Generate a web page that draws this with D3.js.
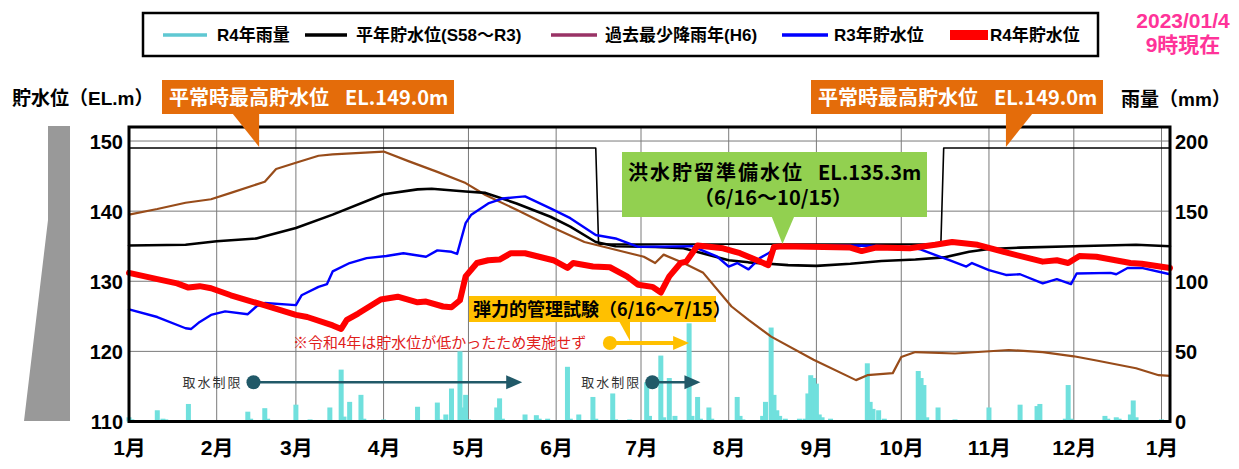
<!DOCTYPE html>
<html>
<head>
<meta charset="utf-8">
<script src="https://cdn.jsdelivr.net/npm/d3@7"></script>
<style>
  body { margin: 0; background: #fff; }
  svg { display: block; font-family: "Liberation Sans", "Noto Sans CJK JP", sans-serif; }
</style>
</head>
<body>
<div class="chart"></div>
<script>
// month labels along the bottom (Jan 2022 .. Jan 2023)
var monthLabels = ["1月","2月","3月","4月","5月","6月","7月","8月","9月","10月","11月","12月","1月"];
var levelTicks = [110, 120, 130, 140, 150];
var rainTicks = [0, 50, 100, 150, 200];

var legendLabels = ["R4年雨量", "平年貯水位(S58～R3)", "過去最少降雨年(H6)", "R3年貯水位", "R4年貯水位"];

// R4 reservoir level (EL.m)
var r4Level = [["1/1",131.2],["1/11",130.3],["1/18",129.7],["1/22",129.1],["1/26",129.3],["1/30",129.0],["2/6",128.0],["2/16",126.8],["3/1",125.2],["3/5",124.9],["3/14",123.7],["3/17",123.2],["3/19",124.5],["3/23",125.4],["3/27",126.4],["3/31",127.4],["4/6",127.8],["4/13",127.0],["4/16",127.1],["4/22",126.4],["4/25",126.3],["4/28",127.3],["4/30",130.7],["5/4",132.6],["5/8",133.0],["5/12",133.1],["5/16",134.0],["5/21",134.0],["5/26",133.5],["5/31",133.0],["6/5",131.9],["6/7",132.6],["6/14",132.1],["6/20",132.0],["6/26",130.7],["6/30",129.5],["7/5",129.2],["7/8",128.4],["7/11",130.7],["7/15",132.6],["7/17",132.8],["7/21",135.1],["7/30",134.7],["8/5",134.0],["8/8",133.5],["8/15",132.3],["8/17",134.9],["8/20",135.0],["9/13",134.8],["9/17",134.3],["9/22",134.8],["10/4",134.7],["10/13",135.2],["10/19",135.6],["10/28",135.2],["11/8",134.0],["11/20",132.8],["11/25",133.0],["11/29",132.6],["12/3",133.6],["12/9",133.5],["12/21",132.6],["12/25",132.5],["2023/1/4",131.9]];

// R3 reservoir level
var r3Level = [["1/1",126.0],["1/11",124.9],["1/21",123.3],["1/23",123.2],["1/26",124.2],["1/30",125.2],["2/4",125.7],["2/12",125.3],["2/15",126.4],["2/18",126.9],["3/1",126.6],["3/3",128.0],["3/9",129.2],["3/12",129.6],["3/14",131.4],["3/20",132.6],["3/26",133.3],["4/2",133.6],["4/8",134.0],["4/16",133.5],["4/20",134.4],["4/25",134.2],["4/27",133.9],["4/30",138.3],["5/2",139.5],["5/8",141.1],["5/13",141.8],["5/18",142.0],["5/21",142.1],["5/30",140.4],["6/6",139.0],["6/15",136.6],["6/22",136.1],["6/30",134.9],["7/19",135.0],["7/28",133.5],["8/1",132.1],["8/4",132.6],["8/8",131.7],["8/12",133.3],["8/15",134.0],["8/19",135.0],["9/17",135.1],["10/4",134.9],["10/8",134.5],["10/18",133.0],["10/24",132.1],["10/26",132.6],["11/1",131.6],["11/7",130.9],["11/12",131.0],["11/20",129.7],["11/25",130.3],["11/30",129.6],["12/2",131.1],["12/14",131.2],["12/16",131.0],["12/20",131.9],["12/25",131.9],["2023/1/4",131.0]];

// average year level (S58-R3)
var normalLevel = [["1/1",135.1],["1/21",135.2],["2/1",135.7],["2/15",136.1],["3/1",137.6],["3/14",139.5],["4/1",142.4],["4/13",143.1],["4/18",143.2],["4/30",142.8],["5/7",142.6],["5/18",141.1],["5/30",139.2],["6/6",137.8],["6/15",135.6],["6/22",135.0],["7/6",134.9],["7/16",134.7],["8/1",133.0],["8/8",132.7],["8/22",132.3],["9/1",132.2],["9/13",132.5],["9/24",132.9],["10/6",133.1],["10/16",133.4],["10/25",134.2],["11/1",134.6],["11/12",134.8],["12/1",135.0],["12/23",135.2],["2023/1/4",135.0]];

// driest year on record (H6)
var h6Level = [["1/1",139.5],["1/11",140.3],["1/21",141.2],["1/30",141.7],["2/6",142.6],["2/18",144.2],["2/22",146.0],["3/1",146.9],["3/9",147.9],["3/14",148.1],["4/1",148.5],["4/10",147.1],["4/20",145.6],["4/30",144.0],["5/7",142.3],["5/18",140.2],["5/30",137.8],["6/11",135.6],["6/22",134.5],["7/2",133.5],["7/6",132.6],["7/9",133.8],["7/16",132.6],["7/23",131.2],["8/2",126.4],["8/8",124.5],["8/16",122.1],["8/31",118.8],["9/15",115.9],["9/19",116.6],["9/28",116.9],["10/1",119.2],["10/6",119.9],["10/20",119.7],["11/8",120.2],["11/20",119.9],["12/1",119.3],["12/9",118.7],["12/23",117.6],["12/31",116.6],["2023/1/4",116.5]];

// normal max level 149.0 / flood storage prep level 135.3 (6/16-10/15)
var operatingLevel = [["1/1",149.0],["6/15",149.0],["6/16",135.3],["10/15",135.3],["10/16",149.0],["2023/1/4",149.0]];

// R4 daily rainfall (mm)
var r4Rain = [["1/1",3],["1/2",1.5],["1/5",1],["1/11",8],["1/13",2],["1/14",1.5],["1/19",1],["1/22",12.5],["1/23",1],["2/1",1],["2/8",1],["2/11",1],["2/12",7],["2/13",2],["2/18",9.5],["2/19",2],["3/1",12],["3/3",1],["3/6",1.5],["3/13",10],["3/17",37],["3/18",3.5],["3/20",14],["3/24",19],["3/25",2],["4/1",1.5],["4/2",1],["4/13",10.5],["4/14",1],["4/20",13.5],["4/21",1.5],["4/23",5],["4/25",23.5],["4/28",50],["4/29",10],["4/30",19],["5/1",1.5],["5/11",10],["5/12",16.5],["5/13",2],["5/21",5],["5/25",4.5],["5/26",2],["5/29",2],["6/5",39],["6/6",2],["6/9",5],["6/14",17.5],["6/15",2],["6/21",20],["6/22",1.5],["6/27",1.5],["7/3",28],["7/4",4],["7/8",47],["7/9",3],["7/11",31],["7/13",4],["7/18",70],["7/19",4],["7/21",17.5],["7/22",2],["7/25",10],["7/26",2],["8/4",17.5],["8/5",4],["8/6",1.5],["8/13",4],["8/14",14],["8/16",67],["8/17",19],["8/18",8],["8/19",4],["8/21",2],["8/26",2],["8/28",2],["8/29",20],["8/30",33],["8/31",31],["9/1",27],["9/2",5],["9/3",3],["9/6",2],["9/8",1],["9/12",1],["9/19",41.5],["9/20",14],["9/21",9],["9/23",8],["9/25",2],["10/7",36],["10/8",31],["10/9",26],["10/10",3],["10/14",10],["10/20",1.5],["10/21",1],["11/1",10],["11/2",1],["11/12",12],["11/18",11],["11/19",12.5],["11/20",1],["11/28",2],["11/29",26],["11/30",2],["12/12",4],["12/13",2],["12/16",3],["12/17",2],["12/21",5],["12/22",15],["12/23",3],["12/24",1],["12/31",1],["2023/1/1",1.5],["2023/1/2",1]];

var width = 1239, height = 469;
var plotLeft = 129, plotRight = 1170, plotTop = 127, plotBottom = 421.5;

var parseDay = d3.timeParse("%Y/%m/%d");
function toDate(s) {
  return s.split("/").length === 3 ? parseDay(s) : parseDay("2022/" + s);
}

var svg = d3.select(".chart").append("svg")
  .attr("width", width)
  .attr("height", height);

var xScale = d3.scaleTime()
  .domain([toDate("1/1"), toDate("2023/1/4")])
  .range([plotLeft, plotRight]);

var yScale = d3.scaleLinear()
  .domain([110, 152])
  .range([plotBottom, plotTop]);

var rainScale = d3.scaleLinear()
  .domain([0, 210])
  .range([plotBottom, plotTop]);

var monthDates = d3.range(13).map(function(i) { return new Date(2022, i, 1); });

// gray dam silhouette on the left
svg.append("polygon")
  .attr("points", "48,126 70,126 70,421 24,421 48,220")
  .attr("fill", "#999999");

// grid
svg.append("g").selectAll("line.hgrid")
  .data([120, 130, 140, 150])
  .enter().append("line")
  .attr("x1", plotLeft).attr("x2", plotRight)
  .attr("y1", function(d) { return yScale(d); })
  .attr("y2", function(d) { return yScale(d); })
  .attr("stroke", "#7a7a7a").attr("stroke-width", 1);

svg.append("g").selectAll("line.vgrid")
  .data(monthDates.slice(1))
  .enter().append("line")
  .attr("x1", function(d) { return xScale(d); })
  .attr("x2", function(d) { return xScale(d); })
  .attr("y1", plotTop).attr("y2", plotBottom)
  .attr("stroke", "#7a7a7a").attr("stroke-width", 1);

// rainfall bars
svg.append("g").selectAll("rect")
  .data(r4Rain)
  .enter().append("rect")
  .attr("x", function(d) { return xScale(toDate(d[0])) - 2.5; })
  .attr("y", function(d) { return rainScale(d[1]); })
  .attr("width", 5)
  .attr("height", function(d) { return plotBottom - rainScale(d[1]); })
  .attr("fill", "#70e0dd");

var line = d3.line()
  .x(function(d) { return xScale(toDate(d[0])); })
  .y(function(d) { return yScale(d[1]); });

function drawLine(data, color, w) {
  svg.append("path")
    .datum(data)
    .attr("d", line)
    .attr("fill", "none")
    .attr("stroke", color)
    .attr("stroke-width", w)
    .attr("stroke-linejoin", "round")
    .attr("stroke-linecap", "round");
}

drawLine(operatingLevel, "#000", 1.6);
drawLine(h6Level, "#984c1a", 2.2);
drawLine(normalLevel, "#000", 2.6);
drawLine(r3Level, "#0000ff", 2.4);
drawLine(r4Level, "#ff0000", 6);

// plot frame
svg.append("rect")
  .attr("x", plotLeft).attr("y", plotTop)
  .attr("width", plotRight - plotLeft).attr("height", plotBottom - plotTop)
  .attr("fill", "none").attr("stroke", "#000").attr("stroke-width", 3);

// axes
var leftAxis = svg.append("g")
  .attr("transform", "translate(" + (plotLeft - 6) + ",0)")
  .call(d3.axisLeft(yScale).tickValues(levelTicks).tickSize(0).tickPadding(0));
var rightAxis = svg.append("g")
  .attr("transform", "translate(" + (plotRight + 5) + ",0)")
  .call(d3.axisRight(rainScale).tickValues(rainTicks).tickSize(0).tickPadding(0));
var bottomAxis = svg.append("g")
  .attr("transform", "translate(0," + (plotBottom + 14) + ")")
  .call(d3.axisBottom(xScale).tickValues(monthDates).tickSize(0).tickPadding(0)
    .tickFormat(function(d, i) { return monthLabels[i]; }));

[leftAxis, rightAxis, bottomAxis].forEach(function(g) {
  g.select(".domain").remove();
  g.selectAll("text")
    .attr("fill", "#000")
    .style("font-family", "'Liberation Sans', 'Noto Sans CJK JP', sans-serif")
    .style("font-weight", "bold")
    .style("font-size", "20px");
});
leftAxis.selectAll("text").attr("dy", "0.36em");
rightAxis.selectAll("text").attr("dy", "0.36em");
bottomAxis.selectAll("text").style("font-size", "21px").attr("dy", "0.95em");

// axis titles
svg.append("text")
  .attr("x", 12).attr("y", 105)
  .style("font-size", "19px").style("font-weight", "bold")
  .text("貯水位（EL.m）");
svg.append("text")
  .attr("x", 1121).attr("y", 106)
  .style("font-size", "19px").style("font-weight", "bold")
  .text("雨量（mm）");

// legend
svg.append("rect")
  .attr("x", 143).attr("y", 13).attr("width", 955).attr("height", 43)
  .attr("fill", "#fff").attr("stroke", "#000").attr("stroke-width", 2.5);

var legendColors = ["#5fc8d2", "#000000", "#993366", "#0000ff", "#ff0000"];
var legendX = [163, 305, 551, 782, 950];
var legendW = [44, 42, 46, 46, 38];
var legendH = [3.5, 3.5, 3.5, 3.5, 10];
var legendTextX = [217, 356, 605, 834, 990];
legendLabels.forEach(function(name, i) {
  svg.append("rect")
    .attr("x", legendX[i]).attr("y", 35 - legendH[i] / 2)
    .attr("width", legendW[i]).attr("height", legendH[i])
    .attr("fill", legendColors[i]);
  svg.append("text")
    .attr("x", legendTextX[i]).attr("y", 41)
    .style("font-size", "17px").style("font-weight", "bold")
    .text(name);
});

// date stamp
svg.append("text")
  .attr("x", 1183).attr("y", 28).attr("text-anchor", "middle")
  .attr("fill", "#ff3399").style("font-size", "21px").style("font-weight", "bold")
  .text("2023/01/4");
svg.append("text")
  .attr("x", 1183).attr("y", 52).attr("text-anchor", "middle")
  .attr("fill", "#ff3399").style("font-size", "21px").style("font-weight", "bold")
  .text("9時現在");

// orange callouts (normal max level)
function orangeCallout(bx, tipX, pointLeft) {
  svg.append("rect")
    .attr("x", bx).attr("y", 80).attr("width", 292).attr("height", 34)
    .attr("fill", "#e46c0a");
  var pts = pointLeft
    ? [[tipX, 113], [tipX + 27, 113], [tipX, yScale(149) - 1]]
    : [[tipX - 27, 113], [tipX, 113], [tipX, yScale(149) - 1]];
  svg.append("polygon").attr("points", pts.join(" ")).attr("fill", "#e46c0a");
  var t = svg.append("text")
    .attr("x", bx + 7).attr("y", 105)
    .attr("fill", "#fff").style("font-size", "20px").style("font-weight", "bold")
    .style("font-family", "'Noto Sans CJK JP', sans-serif");
  t.append("tspan").text("平常時最高貯水位");
  t.append("tspan").attr("dx", 16).text("EL.149.0m");
}
orangeCallout(162, xScale(toDate("2/16")), false);
orangeCallout(811, xScale(toDate("11/7")), true);

// green callout (flood storage prep level)
var gTip = xScale(toDate("8/20"));
svg.append("rect")
  .attr("x", 622).attr("y", 152).attr("width", 305).attr("height", 65)
  .attr("fill", "#92d050");
svg.append("polygon")
  .attr("points", [[gTip - 11, 216], [gTip + 12, 216], [gTip, yScale(135.3)]].join(" "))
  .attr("fill", "#92d050");
var gt = svg.append("text")
  .attr("x", 628).attr("y", 180)
  .style("font-size", "20px").style("font-weight", "bold")
  .style("font-family", "'Noto Sans CJK JP', sans-serif");
gt.append("tspan").style("letter-spacing", "2px").text("洪水貯留準備水位");
gt.append("tspan").attr("dx", 14).text("EL.135.3m");
svg.append("text")
  .attr("x", 773).attr("y", 205).attr("text-anchor", "middle")
  .style("font-size", "20px").style("font-weight", "bold")
  .style("font-family", "'Noto Sans CJK JP', sans-serif")
  .text("（6/16～10/15）");

// yellow callout (flexible management test)
svg.append("rect")
  .attr("x", 469).attr("y", 296).attr("width", 247).attr("height", 26)
  .attr("fill", "#ffc000");
svg.append("polygon")
  .attr("points", "619,321 630,321 630,341")
  .attr("fill", "#ffc000");
svg.append("text")
  .attr("x", 473).attr("y", 316)
  .style("font-size", "18px").style("font-weight", "bold")
  .style("font-family", "'Noto Sans CJK JP', sans-serif")
  .text("弾力的管理試験（6/16～7/15）");

function arrow(d0, d1, level, color, lw) {
  var x0 = xScale(toDate(d0)), x1 = xScale(toDate(d1)), yy = yScale(level);
  svg.append("line")
    .attr("x1", x0).attr("x2", x1 - 14).attr("y1", yy).attr("y2", yy)
    .attr("stroke", color).attr("stroke-width", lw);
  svg.append("circle").attr("cx", x0).attr("cy", yy).attr("r", 7).attr("fill", color);
  svg.append("polygon")
    .attr("points", [[x1 - 16, yy - 7], [x1, yy], [x1 - 16, yy + 7]].join(" "))
    .attr("fill", color);
  return x0;
}

arrow("6/20", "7/18", 121.2, "#ffc000", 4);
svg.append("text")
  .attr("x", 293).attr("y", 348)
  .attr("fill", "#e0201b").style("font-size", "15px")
  .style("font-family", "'Noto Sans CJK JP', sans-serif")
  .text("※令和4年は貯水位が低かったため実施せず");

// water intake restriction periods
[["2/14", "5/20"], ["7/5", "7/22"]].forEach(function(p) {
  var x0 = arrow(p[0], p[1], 115.6, "#215968", 2.5);
  svg.append("text")
    .attr("x", x0 - 11).attr("y", yScale(115.6) + 5).attr("text-anchor", "end")
    .attr("fill", "#333").style("font-size", "13px").style("letter-spacing", "2px")
    .style("font-family", "'Noto Sans CJK JP', sans-serif")
    .text("取水制限");
});
</script>
</body>
</html>
